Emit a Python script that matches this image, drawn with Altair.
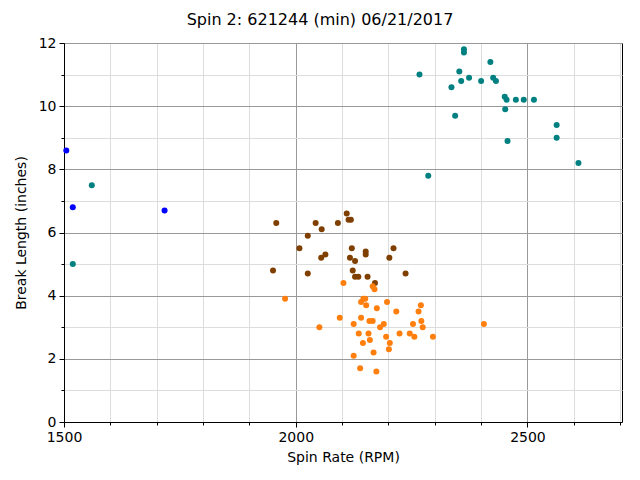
import altair as alt
import pandas as pd

# ---- data ----
blue_x = [1505, 1519, 1717]
blue_y = [8.6, 6.8, 6.7]

teal_x = [2363, 2363, 2420, 2267, 2353, 2357, 2374, 2400, 2426, 2432, 2336, 2451,
          2455, 2475, 2492, 2514, 2452, 2344, 2563, 2563, 2457, 2610, 2286, 1560, 1519]
teal_y = [11.8, 11.7, 11.4, 11.0, 11.1, 10.8, 10.9, 10.8, 10.9, 10.8, 10.6, 10.3,
          10.2, 10.2, 10.2, 10.2, 9.9, 9.7, 9.4, 9.0, 8.9, 8.2, 7.8, 7.5, 5.0]

brown_x = [1958, 2043, 2056, 2026, 2091, 2110, 2114, 2119, 2008, 2064, 2055, 2121, 2117,
           2128, 2151, 2151, 2211, 2202, 1951, 2026, 2123, 2128, 2135, 2155, 2171, 2237]
brown_y = [6.3, 6.3, 6.1, 5.9, 6.3, 6.6, 6.4, 6.4, 5.5, 5.3, 5.2, 5.5, 5.2,
           5.1, 5.4, 5.3, 5.5, 5.2, 4.8, 4.7, 4.8, 4.6, 4.6, 4.6, 4.4, 4.7]

orange_x = [2103, 1977, 2166, 2170, 2146, 2150, 2141, 2152, 2197, 2175, 2270, 2265, 2217,
            2095, 2141, 2125, 2159, 2166, 2190, 2182, 2271, 2253, 2274, 2051, 2136, 2157,
            2224, 2246, 2256, 2296, 2195, 2160, 2145, 2203, 2201, 2168, 2125, 2139, 2174, 2406]
orange_y = [4.4, 3.9, 4.3, 4.2, 3.9, 3.9, 3.8, 3.7, 3.8, 3.6, 3.7, 3.5, 3.5,
            3.3, 3.3, 3.1, 3.2, 3.2, 3.1, 3.0, 3.2, 3.1, 3.0, 3.0, 2.8, 2.8,
            2.8, 2.8, 2.7, 2.7, 2.7, 2.6, 2.5, 2.5, 2.3, 2.2, 2.1, 1.7, 1.6, 3.1]

groups = ["blue", "teal", "brown", "orange"]
group_colors = ["#0000ff", "#008080", "#7f3f00", "#ff7f0e"]

x_major = [1500, 2000, 2500]
x_minor = [1600, 1700, 1800, 1900, 2100, 2200, 2300, 2400, 2600, 2700]
y_major = [0, 2, 4, 6, 8, 10, 12]
y_minor = [1, 3, 5, 7, 9, 11]

title_text = "Spin 2: 621244 (min) 06/21/2017"
x_title = "Spin Rate (RPM)"
y_title = "Break Length (inches)"

rows = []
for g, xs, ys in [("blue", blue_x, blue_y), ("teal", teal_x, teal_y),
                  ("brown", brown_x, brown_y), ("orange", orange_x, orange_y)]:
    for a, b in zip(xs, ys):
        rows.append({"spin": a, "brk": b, "grp": g})
df = pd.DataFrame(rows)

FONT = "DejaVu Sans"
xscale = alt.Scale(domain=[1500, 2704], nice=False, zero=False)
yscale = alt.Scale(domain=[0, 12], nice=False)

minor = alt.Chart(df).mark_circle(opacity=0).encode(
    x=alt.X("spin:Q", scale=xscale, title=None,
            axis=alt.Axis(values=x_minor, labels=False, domain=False, tickSize=3,
                          tickColor="black", grid=True, gridColor="#dddddd",
                          gridWidth=1, orient="bottom")),
    y=alt.Y("brk:Q", scale=yscale, title=None,
            axis=alt.Axis(values=y_minor, labels=False, domain=False, tickSize=3,
                          tickColor="black", grid=True, gridColor="#dddddd",
                          gridWidth=1, orient="left")),
)

points = alt.Chart(df).mark_circle(size=36, opacity=1).encode(
    x=alt.X("spin:Q", scale=xscale, title=x_title,
            axis=alt.Axis(values=x_major, format="d", tickSize=5, tickColor="black",
                          domainColor="black", grid=True, gridColor="#999999",
                          gridWidth=1, labelFontSize=14, labelColor="black",
                          labelFlush=False, labelOverlap=False,
                          labelFont=FONT, titleFont=FONT, titleFontSize=14,
                          titleFontWeight="normal", titleColor="black",
                          titlePadding=6, labelPadding=3, orient="bottom")),
    y=alt.Y("brk:Q", scale=yscale, title=y_title,
            axis=alt.Axis(values=y_major, format="d", tickSize=5, tickColor="black",
                          domainColor="black", grid=True, gridColor="#999999",
                          gridWidth=1, labelFontSize=14, labelColor="black",
                          labelFlush=False, labelOverlap=False,
                          labelFont=FONT, titleFont=FONT, titleFontSize=14,
                          titleFontWeight="normal", titleColor="black",
                          titlePadding=10, labelPadding=3, orient="left")),
    color=alt.Color("grp:N", scale=alt.Scale(domain=groups, range=group_colors),
                    legend=None),
)

chart = alt.layer(minor, points).resolve_axis(x="independent", y="independent").properties(
    width=558, height=379,
    title=alt.TitleParams(title_text, font=FONT, fontSize=16, fontWeight="normal",
                          color="black", anchor="middle", offset=8, dx=-23),
    autosize=alt.AutoSizeParams(type="none"),
    padding={"left": 56, "top": 35, "right": 10, "bottom": 50},
).configure_view(stroke="black", strokeWidth=1)

chart.save("out.html", embed_options={"renderer": "svg", "actions": False})
